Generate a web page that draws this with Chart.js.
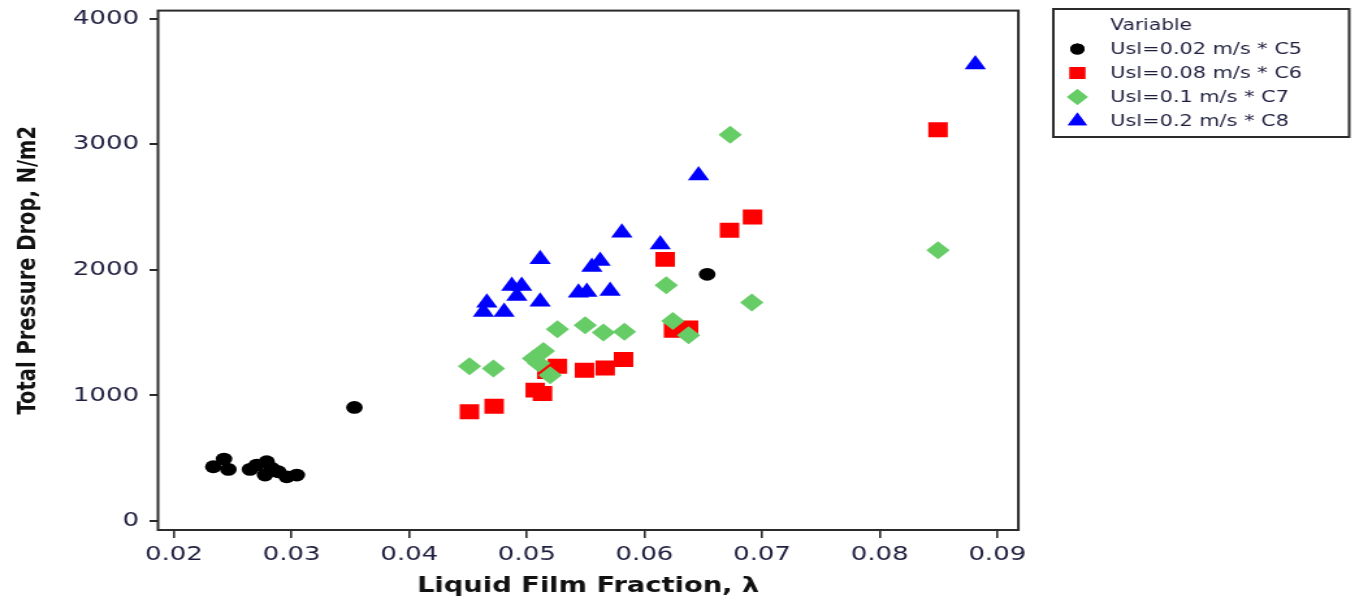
<!DOCTYPE html>
<html>
<head>
<meta charset="utf-8">
<script src="https://cdn.jsdelivr.net/npm/chart.js@4.4.1/dist/chart.umd.min.js"></script>
<style>
  html, body { margin: 0; padding: 0; background: #fff; overflow: hidden; }
  /* the plot is drawn narrow and widened on screen */
  #chart { display: block; transform: scaleX(1.3004); transform-origin: 0 0; }
</style>
</head>
<body>
<canvas id="chart" width="1042" height="602"></canvas>
<script>
const xTicks = [0.02, 0.03, 0.04, 0.05, 0.06, 0.07, 0.08, 0.09];
const yTicks = [0, 1000, 2000, 3000, 4000];

const seriesNames = ['Usl=0.02 m/s * C5', 'Usl=0.08 m/s * C6', 'Usl=0.1 m/s * C7', 'Usl=0.2 m/s * C8'];

// [liquid film fraction, total pressure drop]
const c5 = [
  [0.02334, 432], [0.02425, 493], [0.02462, 411], [0.02646, 411], [0.02703, 445],
  [0.02788, 472], [0.02774, 366], [0.02831, 419], [0.02887, 392], [0.02958, 352],
  [0.03044, 366], [0.03534, 904], [0.06533, 1964]
];
const c6 = [
  [0.04512, 869], [0.04722, 914], [0.05071, 1042], [0.05133, 1015], [0.0517, 1190],
  [0.0526, 1233], [0.0549, 1201], [0.05666, 1219], [0.05822, 1286], [0.06176, 2083],
  [0.06247, 1519], [0.06375, 1537], [0.06723, 2314], [0.06919, 2420], [0.08496, 3115]
];
const c7 = [
  [0.04512, 1233], [0.04716, 1214], [0.05056, 1294], [0.05141, 1354], [0.0510, 1255],
  [0.05198, 1161], [0.0526, 1527], [0.05496, 1559], [0.05651, 1500], [0.0583, 1506],
  [0.06185, 1877], [0.06241, 1593], [0.06375, 1479], [0.06913, 1739], [0.06729, 3075],
  [0.08496, 2155]
];
const c8 = [
  [0.05113, 2083], [0.05623, 2070], [0.05553, 2022], [0.04872, 1871], [0.04956, 1871],
  [0.04915, 1792], [0.0466, 1738], [0.04631, 1664], [0.04807, 1664], [0.05113, 1746],
  [0.05439, 1818], [0.0551, 1824], [0.05708, 1831], [0.05808, 2295], [0.06134, 2202],
  [0.0646, 2751], [0.08813, 3634]
];

const colors = ['#000000', '#ff0000', '#66cc66', '#0000ff'];
const styles = ['circle', 'rect', 'rectRot', 'triangle'];
const radii = [6.4, 10.6, 9, 9.5];
const legendRadii = [5.5, 8.5, 8, 8.5];
const drawOrder = [1, 3, 2, 4];

const toPoints = arr => arr.map(([x, y]) => ({ x: x, y: y }));
const textColor = '#1f1f3f';

const datasets = [c5, c6, c7, c8].map((arr, i) => ({
  label: seriesNames[i],
  data: toPoints(arr),
  pointStyle: styles[i],
  pointRadius: radii[i],
  pointHoverRadius: radii[i],
  pointBackgroundColor: colors[i],
  pointBorderWidth: 0,
  showLine: false,
  order: drawOrder[i]
}));

// keep tick labels from pushing the plot area around
const noLabelPadding = s => {
  s.paddingTop = 0;
  s.paddingBottom = 0;
  s.paddingLeft = 0;
  s.paddingRight = 0;
};

// box round the plotting area
const frame = {
  id: 'frame',
  afterDraw(chart) {
    const { ctx, chartArea: a } = chart;
    ctx.save();
    ctx.strokeStyle = '#2b2b2b';
    ctx.lineWidth = 2;
    ctx.strokeRect(a.left, a.top, a.right - a.left, a.bottom - a.top);
    ctx.restore();
  }
};

// legend on the right with its "Variable" heading
const legendBox = {
  id: 'legendBox',
  afterDraw(chart) {
    const ctx = chart.ctx;
    const bx = 810, by = 9, bw = 227.5, bh = 128;
    ctx.save();
    ctx.strokeStyle = '#2b2b2b';
    ctx.lineWidth = 2;
    ctx.strokeRect(bx, by, bw, bh);
    ctx.fillStyle = textColor;
    ctx.textBaseline = 'middle';
    ctx.textAlign = 'left';
    ctx.font = '15.5px "DejaVu Sans"';
    ctx.fillText('Variable', 853.8, 26);
    ctx.font = '16px "DejaVu Sans"';
    seriesNames.forEach((name, i) => {
      const y = 49 + i * 24;
      ctx.fillStyle = colors[i];
      Chart.helpers.drawPoint(ctx, { pointStyle: styles[i], radius: legendRadii[i], rotation: 0, borderWidth: 0 }, 828.5, y);
      ctx.fill();
      ctx.fillStyle = textColor;
      ctx.fillText(name, 853.8, y + 1);
    });
    ctx.restore();
  }
};

new Chart(document.getElementById('chart'), {
  type: 'scatter',
  data: { datasets: datasets },
  options: {
    responsive: false,
    devicePixelRatio: 1,
    animation: false,
    layout: { padding: { left: 0, right: 258.9, top: 10, bottom: 0 } },
    plugins: {
      legend: { display: false },
      tooltip: { enabled: false }
    },
    scales: {
      x: {
        type: 'linear',
        min: 0.01864,
        max: 0.09179,
        afterBuildTicks: s => { s.ticks = xTicks.map(v => ({ value: v })); },
        afterFit: s => { s.height = 72; noLabelPadding(s); },
        border: { display: false },
        grid: { display: true, drawOnChartArea: false, drawTicks: true, tickLength: 8, color: '#2b2b2b', lineWidth: 1.6 },
        ticks: {
          callback: v => v.toFixed(2),
          font: { family: 'DejaVu Sans', size: 20 },
          color: textColor,
          padding: 5,
          maxRotation: 0,
          autoSkip: false
        },
        title: {
          display: true,
          text: 'Liquid Film Fraction, λ',
          font: { family: 'DejaVu Sans', size: 21, weight: 'bold' },
          color: '#111111',
          padding: { top: 0, bottom: 3 }
        }
      },
      y: {
        type: 'linear',
        min: -71.6,
        max: 4063.6,
        afterBuildTicks: s => { s.ticks = yTicks.map(v => ({ value: v })); },
        afterFit: s => { s.width = 121.5; noLabelPadding(s); },
        border: { display: false },
        grid: { display: true, drawOnChartArea: false, drawTicks: true, tickLength: 6.5, color: '#2b2b2b', lineWidth: 2 },
        ticks: {
          callback: v => String(v),
          font: { family: 'DejaVu Sans', size: 20 },
          color: textColor,
          padding: 8
        },
        title: {
          display: true,
          text: 'Total Pressure Drop, N/m2',
          font: { family: 'DejaVu Sans', size: 19.5, weight: 'bold' },
          color: '#111111',
          padding: { top: 10, bottom: 0 }
        }
      }
    }
  },
  plugins: [frame, legendBox]
});
</script>
</body>
</html>
